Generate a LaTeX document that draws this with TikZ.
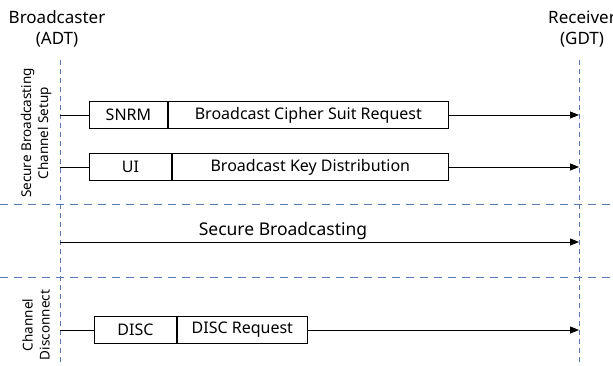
\documentclass[tikz,border=0pt]{standalone}
\usepackage{fontspec}
\setmainfont{Noto Sans}
\usetikzlibrary{arrows.meta}
\definecolor{lifeblue}{RGB}{88,122,176}
\tikzset{
  lifeline/.style={lifeblue, dashed, dash pattern=on 5pt off 4pt, line width=0.9pt},
  sepline/.style={lifeblue, dashed, dash pattern=on 8pt off 6pt, line width=1pt},
  msg/.style={draw, line width=0.9pt, minimum height=27pt, inner sep=0pt, font=\fontsize{16}{18}\selectfont},
  conn/.style={line width=0.9pt},
  arr/.style={conn, -{Triangle[length=9pt,width=7pt]}},
  head/.style={font=\fontsize{17}{21}\selectfont, align=center, inner sep=0pt},
  phase/.style={font=\fontsize{13.5}{17}\selectfont, align=center, rotate=90, inner sep=0pt}
}
\begin{document}
\begin{tikzpicture}[x=1pt, y=-1pt]
\useasboundingbox (0,0) rectangle (613,366);

% participants
\node[head] (bc) at (57,29) {Broadcaster\\(ADT)};
\node[head] (rc) at (582,29) {Receiver\\(GDT)};

% lifelines
\coordinate (ltop) at (60,60);
\coordinate (lbot) at (60,366);
\coordinate (rtop) at (579,60);
\coordinate (rbot) at (579,366);
\draw[lifeline] (ltop) -- (lbot);
\draw[lifeline] (rtop) -- (rbot);

% phase separators
\coordinate (s1l) at (0,205);
\coordinate (s1r) at (613,205);
\coordinate (s2l) at (0,277);
\coordinate (s2r) at (613,277);
\draw[sepline] (s1l) -- (s1r);
\draw[sepline] (s2l) -- (s2r);

% phase labels
\node[phase] (ph1) at (36,133) {Secure Broadcasting\\Channel Setup};
\node[phase] (ph2) at (36,325) {Channel\\Disconnect};

% message 1: SNRM
\coordinate (a1) at (60,115);
\coordinate (b1) at (579,115);
\node[msg, anchor=west, minimum width=78pt] (snrm) at (89,115) {SNRM};
\node[msg, anchor=west, minimum width=280pt] (snrmtxt) at (snrm.east) {Broadcast Cipher Suit Request};
\draw[conn] (a1) -- (snrm.west);
\draw[arr] (snrmtxt.east) -- (b1);

% message 2: UI
\coordinate (a2) at (60,167);
\coordinate (b2) at (579,167);
\node[msg, anchor=west, minimum width=82pt] (ui) at (89,167) {UI};
\node[msg, anchor=west, minimum width=276pt] (uitxt) at (ui.east) {Broadcast Key Distribution};
\draw[conn] (a2) -- (ui.west);
\draw[arr] (uitxt.east) -- (b2);

% secure broadcasting
\coordinate (a3) at (60,242);
\coordinate (b3) at (579,242);
\draw[arr] (a3) -- (b3);
\node[font=\fontsize{17.5}{20}\selectfont, inner sep=0pt] (sb) at (283,231) {Secure Broadcasting};

% message 3: DISC
\coordinate (a4) at (60,330);
\coordinate (b4) at (579,330);
\node[msg, anchor=west, minimum width=82pt] (disc) at (94,330) {DISC};
\node[msg, anchor=west, minimum width=130pt] (disctxt) at (disc.east) {DISC Request};
\draw[conn] (a4) -- (disc.west);
\draw[arr] (disctxt.east) -- (b4);
\end{tikzpicture}
\end{document}
